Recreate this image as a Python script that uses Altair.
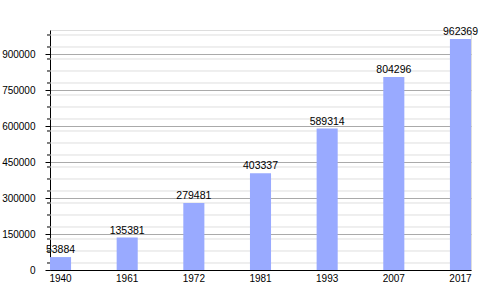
import altair as alt
import pandas as pd

years = ["1940", "1961", "1972", "1981", "1993", "2007", "2017"]
population = [53884, 135381, 279481, 403337, 589314, 804296, 962369]
major_ticks = [0, 150000, 300000, 450000, 600000, 750000, 900000]
minor_ticks = [29167 + 50000 * k for k in range(20)]

df = pd.DataFrame({"year": years, "pop": population})
minor_df = pd.DataFrame({"v": minor_ticks})

FONT = "Liberation Sans, Arial, sans-serif"
yscale = alt.Scale(domain=[0, 1000000], nice=False, zero=True)

x = alt.X(
    "year:N",
    sort=years,
    scale=alt.Scale(paddingInner=0.684, paddingOuter=0),
    axis=alt.Axis(
        title=None, labelAngle=0, ticks=False, labelPadding=3,
        domainColor="black", labelColor="black", labelFont=FONT,
        labelFontSize=10, grid=False,
    ),
)
y = alt.Y(
    "pop:Q",
    scale=yscale,
    axis=alt.Axis(
        title=None, values=major_ticks, tickCount=20, labelOverlap=False, format="d",
        labelFont=FONT, labelFontSize=10, labelColor="black", labelPadding=10,
        domainColor="black", tickColor="black", tickSize=5,
        grid=True, gridColor="#aaaaaa",
    ),
)

minor_grid = alt.Chart(minor_df).mark_rule(color="#dedede").encode(
    y=alt.Y("v:Q", scale=yscale)
)
minor_tick = alt.Chart(minor_df).mark_rule(color="black").encode(
    y=alt.Y("v:Q", scale=yscale), x=alt.value(-3), x2=alt.value(0)
)

bars = alt.Chart(df).mark_bar(color="#99aaff").encode(x=x, y=y)
labels = alt.Chart(df).mark_text(
    dy=-4, baseline="alphabetic", align="center", font=FONT, fontSize=10.5, color="black"
).encode(x=alt.X("year:N", sort=years), y=alt.Y("pop:Q", scale=yscale), text="pop:Q")

chart = (
    alt.layer(minor_grid, bars, labels, minor_tick)
    .properties(
        width=421, height=240, autosize="none",
        padding={"left": 50, "top": 30, "right": 29, "bottom": 30},
    )
    .configure_view(strokeWidth=0)
    .configure(background="white")
)
chart.save("out.html", embed_options={"renderer": "svg", "actions": False})
